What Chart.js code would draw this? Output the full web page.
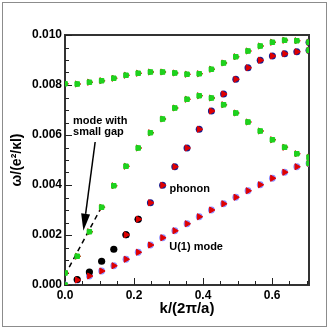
<!DOCTYPE html>
<html>
<head>
<meta charset="utf-8">
<script src="https://cdn.jsdelivr.net/npm/chart.js@4.4.1/dist/chart.umd.min.js"></script>
<style>
  html, body { margin: 0; padding: 0; background: #fff; }
</style>
</head>
<body>
<canvas id="chart" width="328" height="328"></canvas>
<script>
// k grid (units of 2pi/a)
const kValues = [0, 0.0354, 0.0707, 0.1061, 0.1414, 0.1768, 0.2121, 0.2475, 0.2828, 0.3182, 0.3536,
  0.3889, 0.4243, 0.4596, 0.4950, 0.5303, 0.5657, 0.6010, 0.6364, 0.6718, 0.7071];

// green branches
const topBranch = [0.00805, 0.00804, 0.00811, 0.00817, 0.00827, 0.00839, 0.00847, 0.00852, 0.00852, 0.00848, 0.00843,
  0.00845, 0.00863, 0.00888, 0.00913, 0.00936, 0.00956, 0.00971, 0.00979, 0.00977, 0.00971];
const gapBranch = [0.00048, 0.00115, 0.00213, 0.00311, 0.00397, 0.00475, 0.00548, 0.00609, 0.00664, 0.00708, 0.00743,
  0.00757, 0.00748, 0.00721, 0.00688, 0.00652, 0.00616, 0.00581, 0.00551, 0.00525, 0.00511];

// phonon
const phononBlack = [null, 0.00022, 0.00052, 0.00095, 0.00143, 0.00201, 0.00263, null, null, null, null,
  null, null, null, null, null, null, null, null, null, null];
const phononBlue = [null, null, null, null, null, 0.00201, 0.00263, 0.00329, 0.00399, 0.00473, 0.00548,
  0.00623, 0.00696, 0.00764, 0.00823, 0.00869, 0.00899, 0.00916, 0.00925, 0.00933, 0.00939];

// U(1) mode
const u1Mode = [0, 0.00020, 0.00036, 0.00056, 0.00077, 0.00103, 0.00131, 0.00160, 0.00189, 0.00217, 0.00245,
  0.00273, 0.00300, 0.00325, 0.00351, 0.00377, 0.00401, 0.00427, 0.00451, 0.00473, 0.00487];

// extra points at the zone ends
const edgeGreenK = [0, 0.7071, 0.7071];
const edgeGreenW = [0, 0.00939, 0.00487];
const edgeBlueK = [0.7071];
const edgeBlueW = [0.00971];

// dashed guide for the gapped mode
const dashK = [0, 0.107];
const dashW = [0.0004, 0.00315];

const xTicks = [0, 0.2, 0.4, 0.6];
const yTicks = [0, 0.002, 0.004, 0.006, 0.008, 0.010];

const toPoints = (ks, ws) => ks.map((k, i) => ({ x: k, y: ws[i] })).filter(p => p.y !== null);

const GREEN = "#1ed21e";
const RED = "#e00000";
const NAVY = "#1c1c8c";
const LIGHTBLUE = "#8c8cff";
const FONT = '"Liberation Sans", Arial, sans-serif';

const allGreen = toPoints(kValues, topBranch)
  .concat(toPoints(kValues, gapBranch))
  .concat(toPoints(edgeGreenK, edgeGreenW));
const allRed = toPoints(kValues, u1Mode)
  .concat(toPoints(kValues, phononBlue))
  .concat(toPoints(kValues, topBranch))
  .concat(toPoints(kValues, gapBranch));

const decorations = {
  id: "decorations",
  beforeDraw(chart) {
    const { ctx } = chart;
    ctx.save();
    ctx.strokeStyle = "#8c8c8c";
    ctx.lineWidth = 1;
    ctx.strokeRect(2.5, 2.5, 324, 324);
    ctx.restore();
  },
  beforeDatasetsDraw(chart) {
    const { ctx, chartArea: a, scales: { x, y } } = chart;
    ctx.save();
    ctx.strokeStyle = "#333";
    ctx.lineWidth = 2;
    ctx.strokeRect(a.left, a.top, a.right - a.left, a.bottom - a.top);

    // inward ticks
    ctx.lineWidth = 1;
    ctx.strokeStyle = "#222";
    for (let i = 0; i * 0.05 <= x.max + 1e-9; i++) {
      const px = Math.round(x.getPixelForValue(i * 0.05)) + 0.5;
      const len = i % 4 === 0 ? 7 : 4;
      ctx.beginPath();
      ctx.moveTo(px, a.bottom);
      ctx.lineTo(px, a.bottom - len);
      ctx.stroke();
    }
    for (let i = 0; i * 0.0005 <= y.max + 1e-9; i++) {
      const py = Math.round(y.getPixelForValue(i * 0.0005)) + 0.5;
      const len = i % 4 === 0 ? 7 : 4;
      ctx.beginPath();
      ctx.moveTo(a.left, py);
      ctx.lineTo(a.left + len, py);
      ctx.stroke();
    }
    ctx.restore();
  },
  afterDatasetsDraw(chart) {
    const { ctx, scales: { x, y } } = chart;
    ctx.save();

    //ARROW
    const x0 = x.getPixelForValue(0.0874), y0 = y.getPixelForValue(0.00572);
    const x1 = x.getPixelForValue(0.0533), y1 = y.getPixelForValue(0.00217);
    const ang = Math.atan2(y1 - y0, x1 - x0);
    const headLen = 17, headHalf = 4.5;
    const bx = x1 - headLen * Math.cos(ang), by = y1 - headLen * Math.sin(ang);
    ctx.strokeStyle = "#000";
    ctx.fillStyle = "#000";
    ctx.lineWidth = 1.5;
    ctx.beginPath();
    ctx.moveTo(x0, y0);
    ctx.lineTo(bx, by);
    ctx.stroke();
    ctx.beginPath();
    ctx.moveTo(x1, y1);
    ctx.lineTo(bx + headHalf * Math.sin(ang), by - headHalf * Math.cos(ang));
    ctx.lineTo(bx - headHalf * Math.sin(ang), by + headHalf * Math.cos(ang));
    ctx.closePath();
    ctx.fill();

    //LABELS
    ctx.font = "bold 11px " + FONT;
    ctx.textBaseline = "alphabetic";
    ctx.textAlign = "left";
    ctx.fillText("mode with", x.getPixelForValue(0.0233), y.getPixelForValue(0.00644));
    ctx.fillText("small gap", x.getPixelForValue(0.0233), y.getPixelForValue(0.0060));
    ctx.fillText("phonon", x.getPixelForValue(0.303), y.getPixelForValue(0.00372));
    ctx.fillText("U(1) mode", x.getPixelForValue(0.302), y.getPixelForValue(0.00141));
    ctx.restore();
  }
};

new Chart(document.getElementById("chart"), {
  type: "scatter",
  data: {
    datasets: [
      {
        data: allGreen,
        pointStyle: "rect",
        pointRadius: 3.2,
        backgroundColor: GREEN,
        borderColor: GREEN,
        borderWidth: 1,
        order: 0
      },
      {
        data: allGreen,
        pointStyle: "triangle",
        rotation: 90,
        pointRadius: 3,
        backgroundColor: GREEN,
        borderColor: GREEN,
        borderWidth: 1,
        order: 1
      },
      {
        data: allRed,
        pointStyle: "triangle",
        rotation: 90,
        pointRadius: 3.5,
        backgroundColor: RED,
        borderColor: RED,
        borderWidth: 1,
        order: 2
      },
      {
        data: toPoints(kValues, phononBlack),
        pointStyle: "circle",
        pointRadius: 3.6,
        backgroundColor: "#000",
        borderColor: "#000",
        borderWidth: 0,
        order: 3
      },
      {
        data: toPoints(kValues, phononBlue).concat(toPoints(edgeBlueK, edgeBlueW)),
        pointStyle: "circle",
        pointRadius: 3.5,
        backgroundColor: NAVY,
        borderColor: NAVY,
        borderWidth: 0,
        order: 4
      },
      {
        data: toPoints(kValues, u1Mode),
        pointStyle: "circle",
        pointRadius: 3.4,
        backgroundColor: LIGHTBLUE,
        borderColor: LIGHTBLUE,
        borderWidth: 0,
        order: 5
      },
      {
        type: "line",
        data: toPoints(dashK, dashW),
        borderColor: "#000",
        borderWidth: 1.5,
        borderDash: [5, 4],
        pointRadius: 0,
        fill: false,
        order: 6
      }
    ]
  },
  options: {
    responsive: false,
    animation: false,
    layout: { padding: { top: 35, right: 19, left: 0, bottom: 0 } },
    plugins: { legend: { display: false }, tooltip: { enabled: false } },
    elements: { point: { hoverRadius: 0 } },
    scales: {
      x: {
        type: "linear",
        min: 0,
        max: 0.7071,
        grid: { display: false, drawTicks: false },
        border: { display: false },
        afterFit: scale => { scale.height = 43; },
        afterBuildTicks: scale => { scale.ticks = xTicks.map(v => ({ value: v })); },
        ticks: {
          padding: 3,
          color: "#000",
          font: { family: FONT, size: 12, weight: "bold" },
          callback: v => v.toFixed(1)
        },
        title: {
          display: true,
          text: "k/(2π/a)",
          color: "#000",
          font: { family: FONT, size: 15, weight: "bold" },
          padding: { top: 0, bottom: 10 }
        }
      },
      y: {
        type: "linear",
        min: 0,
        max: 0.010,
        grid: { display: false, drawTicks: false },
        border: { display: false },
        afterFit: scale => { scale.width = 65; },
        afterBuildTicks: scale => { scale.ticks = yTicks.map(v => ({ value: v })); },
        ticks: {
          padding: 3,
          color: "#000",
          font: { family: FONT, size: 12, weight: "bold" },
          callback: v => v.toFixed(3)
        },
        title: {
          display: true,
          text: "ω/(e²/κl)",
          color: "#000",
          font: { family: FONT, size: 14, weight: "bold" },
          padding: { top: 9, bottom: 0 }
        }
      }
    }
  },
  plugins: [decorations]
});
</script>
</body>
</html>
